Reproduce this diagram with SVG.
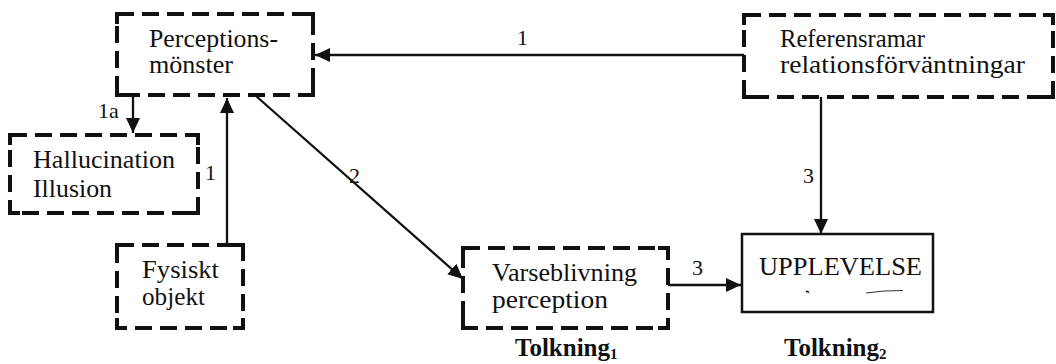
<svg xmlns="http://www.w3.org/2000/svg" width="1056" height="364" viewBox="0 0 1056 364">
  <style>
    .box { fill: none; stroke: #111; stroke-width: 4; stroke-dasharray: 17 8; }
    .corner { fill: none; stroke: #111; stroke-width: 4; stroke-linecap: square; }
    .solid { fill: none; stroke: #111; stroke-width: 2.5; }
    .lbl { font-family: "Liberation Serif", "Times New Roman", serif; font-size: 24.5px; fill: #111; }
    .num { font-family: "Liberation Serif", "Times New Roman", serif; font-size: 22px; fill: #111; }
    .tk { font-family: "Liberation Serif", "Times New Roman", serif; font-size: 25px; font-weight: bold; fill: #111; }
    .edge { fill: none; stroke: #111; stroke-width: 2.3; }
  </style>
  <defs>
    <marker id="arrow" markerUnits="userSpaceOnUse" markerWidth="16" markerHeight="14" refX="15" refY="7" orient="auto">
      <path d="M0,0 L15,7 L0,14 z" fill="#111"/>
    </marker>
  </defs>

  <rect width="1056" height="364" fill="#fff"/>

  <!-- connectors -->
  <g id="connectors">
    <line class="edge" x1="744" y1="55" x2="315" y2="55" marker-end="url(#arrow)"/>
    <text class="num" x="517" y="45">1</text>

    <line class="edge" x1="133" y1="97" x2="133" y2="133" marker-end="url(#arrow)"/>
    <text class="num" x="98" y="118">1a</text>

    <line class="edge" x1="227" y1="245" x2="227" y2="98" marker-end="url(#arrow)"/>
    <text class="num" x="205" y="180">1</text>

    <line class="edge" x1="256" y1="96" x2="463" y2="279" marker-end="url(#arrow)"/>
    <text class="num" x="349" y="183">2</text>

    <line class="edge" x1="668" y1="285" x2="741" y2="285" marker-end="url(#arrow)"/>
    <text class="num" x="692" y="275">3</text>

    <line class="edge" x1="821" y1="97" x2="821" y2="234" marker-end="url(#arrow)"/>
    <text class="num" x="803" y="183">3</text>
  </g>

  <!-- Perceptionsmönster -->
  <g id="perceptionsmonster">
    <rect class="box" x="117" y="14" width="196" height="81"/>
    <path class="corner" d="M117,22 V14 H125 M305,14 H313 V22 M313,87 V95 H305 M125,95 H117 V87"/>
    <text class="lbl" x="149" y="47" textLength="129" lengthAdjust="spacingAndGlyphs">Perceptions-</text>
    <text class="lbl" x="149" y="73" textLength="84" lengthAdjust="spacingAndGlyphs">mönster</text>
  </g>

  <!-- Hallucination / Illusion -->
  <g id="hallucination">
    <rect class="box" x="10" y="135" width="188" height="78"/>
    <path class="corner" d="M10,143 V135 H18 M190,135 H198 V143 M198,205 V213 H190 M18,213 H10 V205"/>
    <text class="lbl" x="33" y="168" textLength="142" lengthAdjust="spacingAndGlyphs">Hallucination</text>
    <text class="lbl" x="33" y="197" textLength="79" lengthAdjust="spacingAndGlyphs">Illusion</text>
  </g>

  <!-- Fysiskt objekt -->
  <g id="fysiskt-objekt">
    <rect class="box" x="117" y="245" width="126" height="83"/>
    <path class="corner" d="M117,253 V245 H125 M235,245 H243 V253 M243,320 V328 H235 M125,328 H117 V320"/>
    <text class="lbl" x="142" y="278" textLength="77" lengthAdjust="spacingAndGlyphs">Fysiskt</text>
    <text class="lbl" x="142" y="305" textLength="63" lengthAdjust="spacingAndGlyphs">objekt</text>
  </g>

  <!-- Varseblivning / perception -->
  <g id="varseblivning">
    <rect class="box" x="463" y="248" width="205" height="80"/>
    <path class="corner" d="M463,256 V248 H471 M660,248 H668 V256 M668,320 V328 H660 M471,328 H463 V320"/>
    <text class="lbl" x="492" y="281" textLength="145" lengthAdjust="spacingAndGlyphs">Varseblivning</text>
    <text class="lbl" x="492" y="308" textLength="116" lengthAdjust="spacingAndGlyphs">perception</text>
    <text class="tk" x="515" y="356">Tolkning<tspan font-size="15" dy="3">1</tspan></text>
  </g>

  <!-- UPPLEVELSE -->
  <g id="upplevelse">
    <rect class="solid" x="742" y="234" width="191" height="78"/>
    <text class="lbl" x="759" y="275" textLength="163" lengthAdjust="spacingAndGlyphs">UPPLEVELSE</text>
    <path d="M806,291 l3,1.5" stroke="#222" stroke-width="1.8"/>
    <path d="M866,293 L884,291 L903,290.5" fill="none" stroke="#333" stroke-width="1.2"/>
    <text class="tk" x="784" y="356">Tolkning<tspan font-size="15" dy="3">2</tspan></text>
  </g>

  <!-- Referensramar / relationsförväntningar -->
  <g id="referensramar">
    <rect class="box" x="744" y="15" width="309" height="82"/>
    <path class="corner" d="M744,23 V15 H752 M1045,15 H1053 V23 M1053,89 V97 H1045 M752,97 H744 V89"/>
    <text class="lbl" x="780" y="47" textLength="145" lengthAdjust="spacingAndGlyphs">Referensramar</text>
    <text class="lbl" x="780" y="73" textLength="245" lengthAdjust="spacingAndGlyphs">relationsförväntningar</text>
  </g>
</svg>
